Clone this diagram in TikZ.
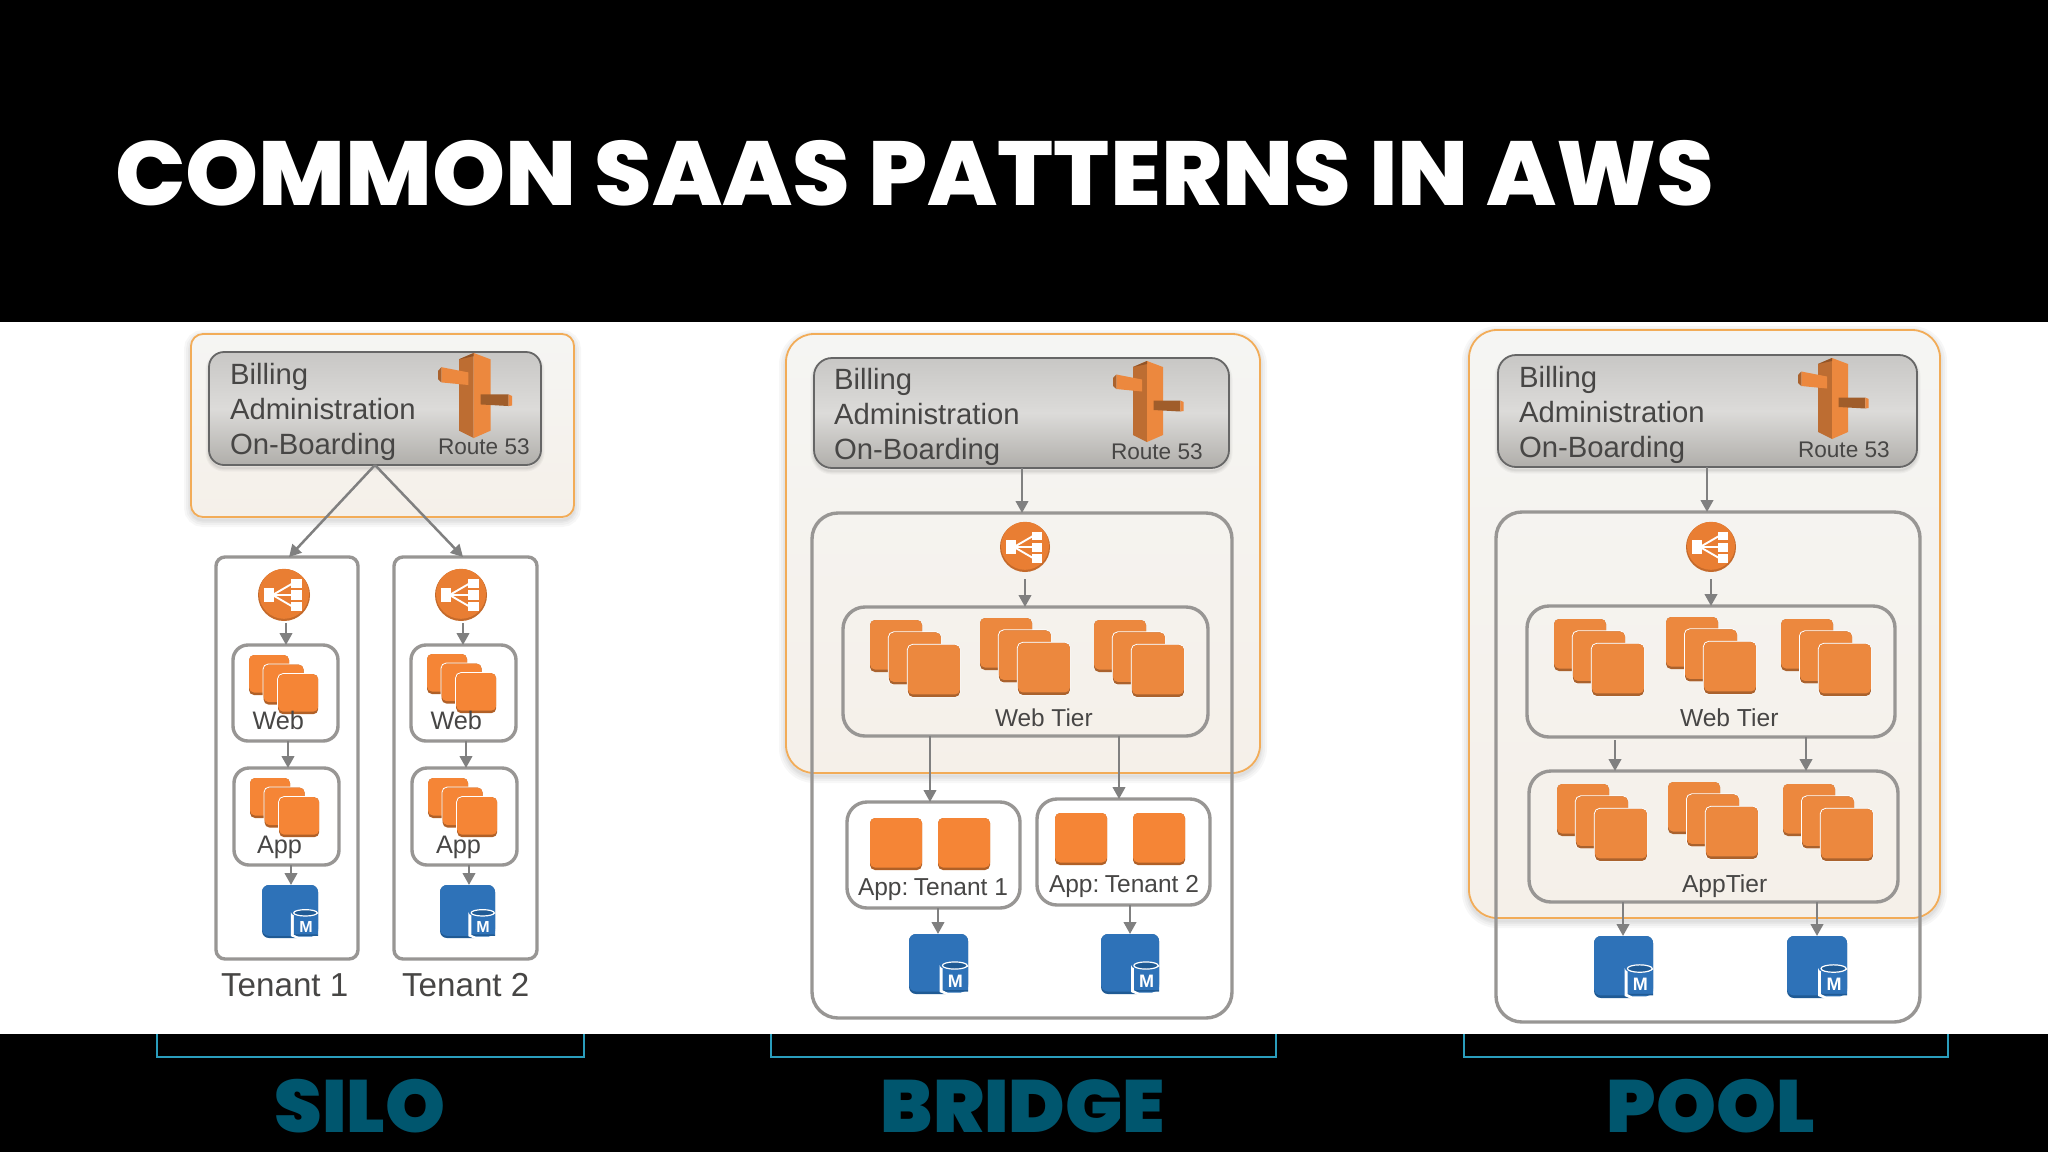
\documentclass[tikz,border=0pt]{standalone}
\usepackage{fontspec}
\setmainfont{Liberation Sans}
\newfontfamily\hd{Poppins ExtraBold}
\newfontfamily\hdb{Poppins Black}
\usetikzlibrary{arrows.meta}
\definecolor{icA}{HTML}{F58536}
\definecolor{icB}{HTML}{EC883E}
\definecolor{txt}{HTML}{474645}
\definecolor{gl}{HTML}{989694}
\definecolor{ar}{HTML}{808080}
\definecolor{teal}{HTML}{00566E}
\definecolor{brk}{HTML}{2A9DBC}
\definecolor{dbb}{HTML}{2E72B8}
\definecolor{dbd}{HTML}{1F5A94}
\definecolor{pedge}{HTML}{F2AC58}
\tikzset{
  bx/.style={rectangle,inner sep=0pt,outer sep=0pt},
  panel/.style={bx,draw=pedge,line width=1.8pt,top color={rgb,255:red,245;green,245;blue,243},bottom color={rgb,255:red,245;green,240;blue,233}},
  greybox/.style={bx,draw=black!60,line width=1.8pt,top color={rgb,255:red,200;green,199;blue,197},bottom color={rgb,255:red,176;green,174;blue,170},middle color={rgb,255:red,220;green,219;blue,217}},
  gbox/.style={bx,draw=gl,line width=3.4pt},
  arr/.style={draw=ar,line width=2.5pt,-{Triangle[length=12pt,width=12.5pt]}},
  lbl/.style={inner sep=0pt,outer sep=0pt,anchor=base west,text=txt},
  bigl/.style={lbl,font=\fontsize{29.3}{30}\selectfont},
  rlab/.style={lbl,font=\fontsize{22.6}{24}\selectfont},
  midl/.style={lbl,font=\fontsize{25.3}{27}\selectfont},
  tenl/.style={lbl,font=\fontsize{33.2}{35}\selectfont},
  brkt/.style={draw=brk,line width=2.6pt},
  bott/.style={inner sep=0pt,text=teal,anchor=base,font=\hdb\fontsize{74}{76}\selectfont},
}
% name x1 y1 x2 y2 options
\newcommand{\bxn}[6]{\node[#6,minimum width={(#4-#2)*1pt},minimum height={(#5-#3)*1pt}] (#1) at ({(#2+#4)/2},{(#3+#5)/2}) {};}
% name x1 y1 x2 y2 radius: outline whose outer edge lies on the given box
\newcommand{\gbn}[6]{\bxn{#1}{#2+1.6}{#3+1.6}{#4-1.6}{#5-1.6}{gbox,rounded corners=#6pt}}
\newcommand{\softsh}[6]{\foreach \w in {#6,0.7*#6,0.4*#6,0.2*#6}{\draw[line width=\w*1pt,black,opacity=.03,rounded corners=#5pt] (#1,{#2+3}) rectangle (#3,{#4+3});}}
\newcommand{\sqic}[4]{%
 \fill[#4!72!black,rounded corners=5pt] (#1,#2) rectangle ({#1+#3},{#2+#3});
 \fill[#4,rounded corners=5pt] (#1,#2) rectangle ({#1+#3},{#2+#3-2.5});}
\newcommand{\halo}[3]{\fill[white,rounded corners=5.5pt] ({#1-1},{#2-1}) rectangle ({#1+#3+0.5},{#2+#3+0.5});}
% x y size colour
\newcommand{\stackic}[4]{%
 \sqic{#1}{#2}{#3}{#4}
 \halo{#1+0.365*#3}{#2+0.24*#3}{#3}\sqic{#1+0.365*#3}{#2+0.24*#3}{#3}{#4}
 \halo{#1+0.73*#3}{#2+0.48*#3}{#3}\sqic{#1+0.73*#3}{#2+0.48*#3}{#3}{#4}}
% x y scale : column's top-left
\newcommand{\routeic}[3]{\begin{scope}[shift={(#1,#2)},scale=#3]
 \fill[icB!80!black] (0,6) -- (14,0) -- (14,81) -- (0,74) -- cycle;
 \fill[icB] (14,0) -- (30,6) -- (30,74) -- (14,81) -- cycle;
 \fill[icB!62!black] (0,6) -- (14,0) -- (14,3) -- cycle;
 \fill[icB] (-16.7,13.5) -- (9,18.5) -- (9,30.5) -- (-16.7,28) -- cycle;
 \fill[icB!72!black] (-20,17) -- (-16.7,13.5) -- (-16.7,28) -- (-20,25) -- cycle;
 \fill[icB!68!black] (20.7,39.5) -- (47.3,39.5) -- (47.3,50.5) -- (20.7,49) -- cycle;
 \fill[icB] (47.3,39.5) -- (50.7,41) -- (50.7,50) -- (47.3,50.5) -- cycle;
\end{scope}}
% name cx cy r
\newcommand{\lbic}[4]{%
 \node[circle,inner sep=0pt,outer sep=0pt,minimum size={2*#4*1pt},fill=icA!80!black] (#1) at (#2,#3) {};
 \fill[icA!95!black] (#2,{#3-1.2}) circle ({#4-1});
 \begin{scope}[shift={(#2,#3)},scale=#4/25]
 \draw[white,line width=1.9pt] (-11,0) -- (8,-11) (-11,0) -- (8,0) (-11,0) -- (8,11);
 \fill[white] (-19,-7) rectangle (-9.5,7);
 \fill[white] (7,-15.5) rectangle (17,-6.8);
 \fill[white] (7,-4.5) rectangle (17,4.5);
 \fill[white] (7,6.8) rectangle (17,15.5);
 \end{scope}}
% name x1 y1 x2 y2 msize
\newcommand{\dbic}[6]{%
 \bxn{#1}{#2}{#3}{#4}{#5}{bx,fill=dbd,rounded corners=7pt}
 \begin{scope}[shift={(#2,#3)},xscale={(#4-#2)/58},yscale={(#5-#3)/60}]
 \fill[dbb,rounded corners=7pt] (0,0) rectangle (58,57.5);
 \fill[white] (30,31) arc[start angle=180,end angle=0,x radius=14,y radius=5.5] -- (58,58) -- (52,61) -- (37,61) -- (30,58) -- cycle;
 \fill[dbb] (33,33) -- (58,33) -- (58,56) -- (51,58.5) -- (38,58.5) -- (33,56) -- cycle;
 \fill[dbd,draw=white,line width=1.2pt] (32.8,31.5) arc[start angle=180,end angle=0,x radius=12.2,y radius=3.6] arc[start angle=0,end angle=-180,x radius=12.2,y radius=3.6];
 \fill[dbd] (36,57.5) -- (58,57.5) -- (58,56) -- (33,56) -- cycle;
 \node[inner sep=0pt,text=white,font=\bfseries\fontsize{#6}{#6}\selectfont] (#1m) at (45.5,47) {M};
 \end{scope}}
\newcommand{\billing}[4]{%
 \node[bigl] (#1a) at (#2,#3) {Billing};
 \node[bigl] (#1b) at (#2,{#3+35}) {Administration};
 \node[bigl] (#1c) at (#2,{#3+70}) {On-Boarding};
 \node[rlab] (#1r) at (#4,{#3+70+\routedy}) {Route 53};}
\newcommand{\routedy}{0}
\begin{document}
\begin{tikzpicture}[x=1pt,y=-1pt]
\useasboundingbox (0,0) rectangle (2048,1152);
\fill[white] (0,0) rectangle (2048,1152);
\fill[black] (0,0) rectangle (2048,322);
\fill[black] (0,1034) rectangle (2048,1152);
\node[inner sep=0pt,anchor=base west,text=white,font=\hd\fontsize{91}{93}\selectfont] (title) at (115,205) {\scalebox{1.022}[1]{COMMON SAAS PATTERNS IN AWS}};
% ---------- SILO
\softsh{191}{334}{574}{517}{12}{14}
\bxn{spanel}{191}{334}{574}{517}{panel,rounded corners=12pt}
\softsh{209}{352}{541}{465}{15}{7}
\bxn{sgrey}{209}{352}{541}{465}{greybox,rounded corners=15pt}
\billing{s}{230}{384}{438}
\routeic{459}{353}{1.05}
\gbn{st1}{216}{557}{358}{959}{9}
\gbn{st2}{394}{557}{537}{959}{9}
\lbic{slb1}{284}{595}{26}
\lbic{slb2}{461}{595}{26}
\gbn{sw1}{233}{645}{338}{741}{15}
\gbn{sw2}{411}{645}{516}{741}{15}
\gbn{sa1}{234}{768}{339}{865}{15}
\gbn{sa2}{412}{768}{517}{865}{15}
\stackic{249}{655}{40}{icA}
\stackic{427}{654}{40}{icA}
\stackic{250}{778}{40}{icA}
\stackic{428}{778}{40}{icA}
\node[midl] (swt1) at (252.5,729) {Web};
\node[midl] (swt2) at (430.5,729) {Web};
\node[midl] (sat1) at (257,853) {App};
\node[midl] (sat2) at (436,853) {App};
\dbic{sd1}{262}{885}{318}{938}{16}
\dbic{sd2}{440}{885}{495}{938}{16}
\node[tenl] (st1l) at (221,996) {Tenant 1};
\node[tenl] (st2l) at (402,996) {Tenant 2};
\draw[arr] (sgrey.south) -- (289,0 |- st1.north);
\draw[arr] (sgrey.south) -- (463,0 |- st2.north);
\draw[arr] (286,623) -- (286,0 |- sw1.north);
\draw[arr] (463,623) -- (463,0 |- sw2.north);
\draw[arr] (288,0 |- sw1.south) -- (288,0 |- sa1.north);
\draw[arr] (466,0 |- sw2.south) -- (466,0 |- sa2.north);
\draw[arr] (291,0 |- sa1.south) -- (291,0 |- sd1.north);
\draw[arr] (469,0 |- sa2.south) -- (469,0 |- sd2.north);
% ---------- BRIDGE
\softsh{786}{334}{1260}{773}{28}{14}
\bxn{bpanel}{786}{334}{1260}{773}{panel,rounded corners=28pt}
\softsh{814}{358}{1229}{468}{18}{7}
\bxn{bgrey}{814}{358}{1229}{468}{greybox,rounded corners=18pt}
\billing{b}{834}{389}{1111}
\routeic{1133}{361}{1}
\gbn{bouter}{812}{513}{1232}{1018}{26}
\lbic{blb}{1025}{547}{25}
\gbn{bweb}{843}{607}{1208}{736}{22}
\stackic{870}{620}{52}{icB}
\stackic{980}{618}{52}{icB}
\stackic{1094}{620}{52}{icB}
\node[lbl,font=\fontsize{24.4}{26}\selectfont] (bwt) at (995,726) {Web Tier};
\gbn{bt1}{847}{802}{1020}{908}{20}
\gbn{bt2}{1037}{799}{1210}{905}{20}
\sqic{870}{818}{52}{icA}
\sqic{938}{818}{52}{icA}
\sqic{1055}{813}{52}{icA}
\sqic{1133}{813}{52}{icA}
\node[lbl,font=\fontsize{24.5}{25}\selectfont] (bt1l) at (858,895) {App:\kern-3.5pt{} Tenant 1};
\node[lbl,font=\fontsize{24.5}{25}\selectfont] (bt2l) at (1049,892) {App:\kern-3.5pt{} Tenant 2};
\dbic{bd1}{909}{934}{968}{994}{18}
\dbic{bd2}{1101}{934}{1159}{994}{18}
\draw[arr] (1022,0 |- bgrey.south) -- (1022,0 |- bouter.north);
\draw[arr] (1025,579) -- (1025,0 |- bweb.north);
\draw[arr] (930,0 |- bweb.south) -- (930,0 |- bt1.north);
\draw[arr] (1119,0 |- bweb.south) -- (1119,0 |- bt2.north);
\draw[arr] (938,0 |- bt1.south) -- (938,0 |- bd1.north);
\draw[arr] (1130,0 |- bt2.south) -- (1130,0 |- bd2.north);
% ---------- POOL
\softsh{1469}{330}{1940}{918}{28}{14}
\bxn{ppanel}{1469}{330}{1940}{918}{panel,rounded corners=28pt}
\softsh{1498}{355}{1917}{467}{18}{7}
\bxn{pgrey}{1498}{355}{1917}{467}{greybox,rounded corners=18pt}
\billing{p}{1519}{387}{1798}
\routeic{1818}{358}{1}
\gbn{pouter}{1496}{512}{1920}{1022}{26}
\lbic{plb}{1711}{547}{25}
\gbn{pweb}{1527}{606}{1895}{737}{22}
\stackic{1554}{619}{52}{icB}
\stackic{1666}{617}{52}{icB}
\stackic{1781}{619}{52}{icB}
\node[lbl,font=\fontsize{24.6}{26}\selectfont] (pwt) at (1680,726) {Web Tier};
\gbn{papp}{1529}{771}{1898}{902}{22}
\stackic{1557}{784}{52}{icB}
\stackic{1668}{782}{52}{icB}
\stackic{1783}{784}{52}{icB}
\node[lbl,font=\fontsize{24.6}{26}\selectfont] (pat) at (1682,892) {AppTier};
\dbic{pd1}{1594}{936}{1653}{998}{18}
\dbic{pd2}{1787}{936}{1847}{998}{18}
\draw[arr] (1707,0 |- pgrey.south) -- (1707,0 |- pouter.north);
\draw[arr] (1711,579) -- (1711,0 |- pweb.north);
\draw[arr] (1615,740) -- (1615,0 |- papp.north);
\draw[arr] (1806,0 |- pweb.south) -- (1806,0 |- papp.north);
\draw[arr] (1623,0 |- papp.south) -- (1623,0 |- pd1.north);
\draw[arr] (1817,0 |- papp.south) -- (1817,0 |- pd2.north);
% ---------- brackets and labels
\draw[brkt] (157,1034) -- (157,1057) -- (584,1057) -- (584,1034);
\draw[brkt] (771,1034) -- (771,1057) -- (1276,1057) -- (1276,1034);
\draw[brkt] (1464,1034) -- (1464,1057) -- (1948,1057) -- (1948,1034);
\node[bott] (silo) at (360,1132) {\scalebox{1.03}[1]{SILO}};
\node[bott] (bridge) at (1023,1132) {\scalebox{1.03}[1]{BRIDGE}};
\node[bott] (pool) at (1711,1132) {\scalebox{1.03}[1]{POOL}};
\end{tikzpicture}
\end{document}
